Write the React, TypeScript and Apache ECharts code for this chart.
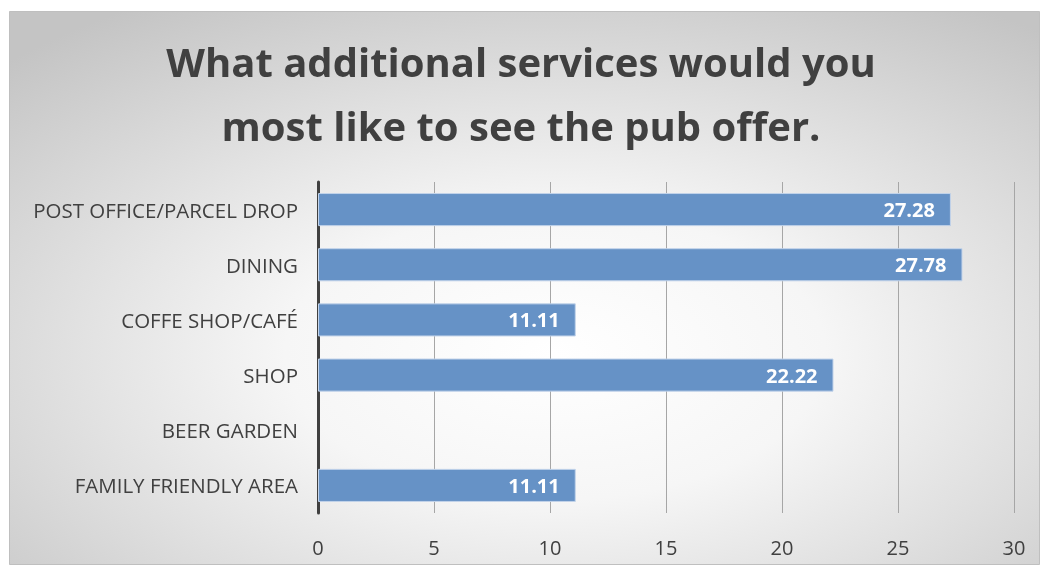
import React, { useEffect, useRef } from "react";
import * as echarts from "echarts";

const categories = [
  "FAMILY FRIENDLY AREA",
  "BEER GARDEN",
  "SHOP",
  "COFFE SHOP/CAFÉ",
  "DINING",
  "POST OFFICE/PARCEL DROP",
];
const values = [11.11, 0, 22.22, 11.11, 27.78, 27.28];
const titleLines = ["What additional services would you", "most like to see the pub offer."];

export default function App() {
  const ref = useRef<HTMLDivElement>(null);
  useEffect(() => {
    const chart = echarts.init(ref.current!, null, { renderer: "svg" });
    chart.setOption({
      animation: false,
      graphic: [
        {
          type: "rect",
          z: -10,
          silent: true,
          shape: { x: 9.5, y: 11.5, width: 1030, height: 553 },
          style: {
            fill: {
              type: "radial",
              x: 0.53,
              y: 0.62,
              r: 0.75,
              colorStops: [
                { offset: 0, color: "#ffffff" },
                { offset: 0.35, color: "#f6f6f6" },
                { offset: 1, color: "#c4c4c4" },
              ],
            },
            stroke: "#bfbfbf",
            lineWidth: 1,
          },
        },
      ],
      title: {
        text: titleLines.join("\n"),
        left: "center",
        top: 24,
        textStyle: {
          fontFamily: "Open Sans",
          fontWeight: "bold",
          fontSize: 40,
          lineHeight: 64,
          color: "#404040",
        },
      },
      grid: { left: 318, right: 28, top: 182, bottom: 54, containLabel: false },
      xAxis: {
        type: "value",
        min: 0,
        max: 30,
        interval: 5,
        axisLine: { show: false },
        axisTick: { show: false },
        splitLine: { show: true, lineStyle: { color: "#a6a6a6", width: 1 } },
        axisLabel: {
          fontFamily: "Open Sans",
          fontSize: 20,
          color: "#404040",
          margin: 24,
        },
      },
      yAxis: {
        type: "category",
        data: categories,
        axisLine: { show: true, lineStyle: { color: "#404040", width: 3 } },
        axisTick: { show: false },
        axisLabel: {
          fontFamily: "Open Sans",
          fontSize: 20.5,
          color: "#404040",
          margin: 20,
        },
      },
      series: [
        {
          type: "bar",
          data: values.map((v) =>
            v === 0 ? { value: v, itemStyle: { borderWidth: 0, opacity: 0 } } : v
          ),
          barWidth: "60%",
          itemStyle: {
            color: "#6692c6",
            borderColor: "#c2d3ea",
            borderWidth: 1,
          },
          label: {
            show: true,
            position: "insideRight",
            distance: 16,
            color: "#ffffff",
            fontFamily: "Open Sans",
            fontWeight: "bold",
            fontSize: 20,
            formatter: (p: any) => (p.value === 0 ? "" : p.value.toFixed(2)),
          },
        },
      ],
    });
    return () => chart.dispose();
  }, []);
  return (
    <div
      ref={ref}
      style={{ position: "fixed", left: 0, top: 0, width: 1042, height: 567 }}
    />
  );
}
